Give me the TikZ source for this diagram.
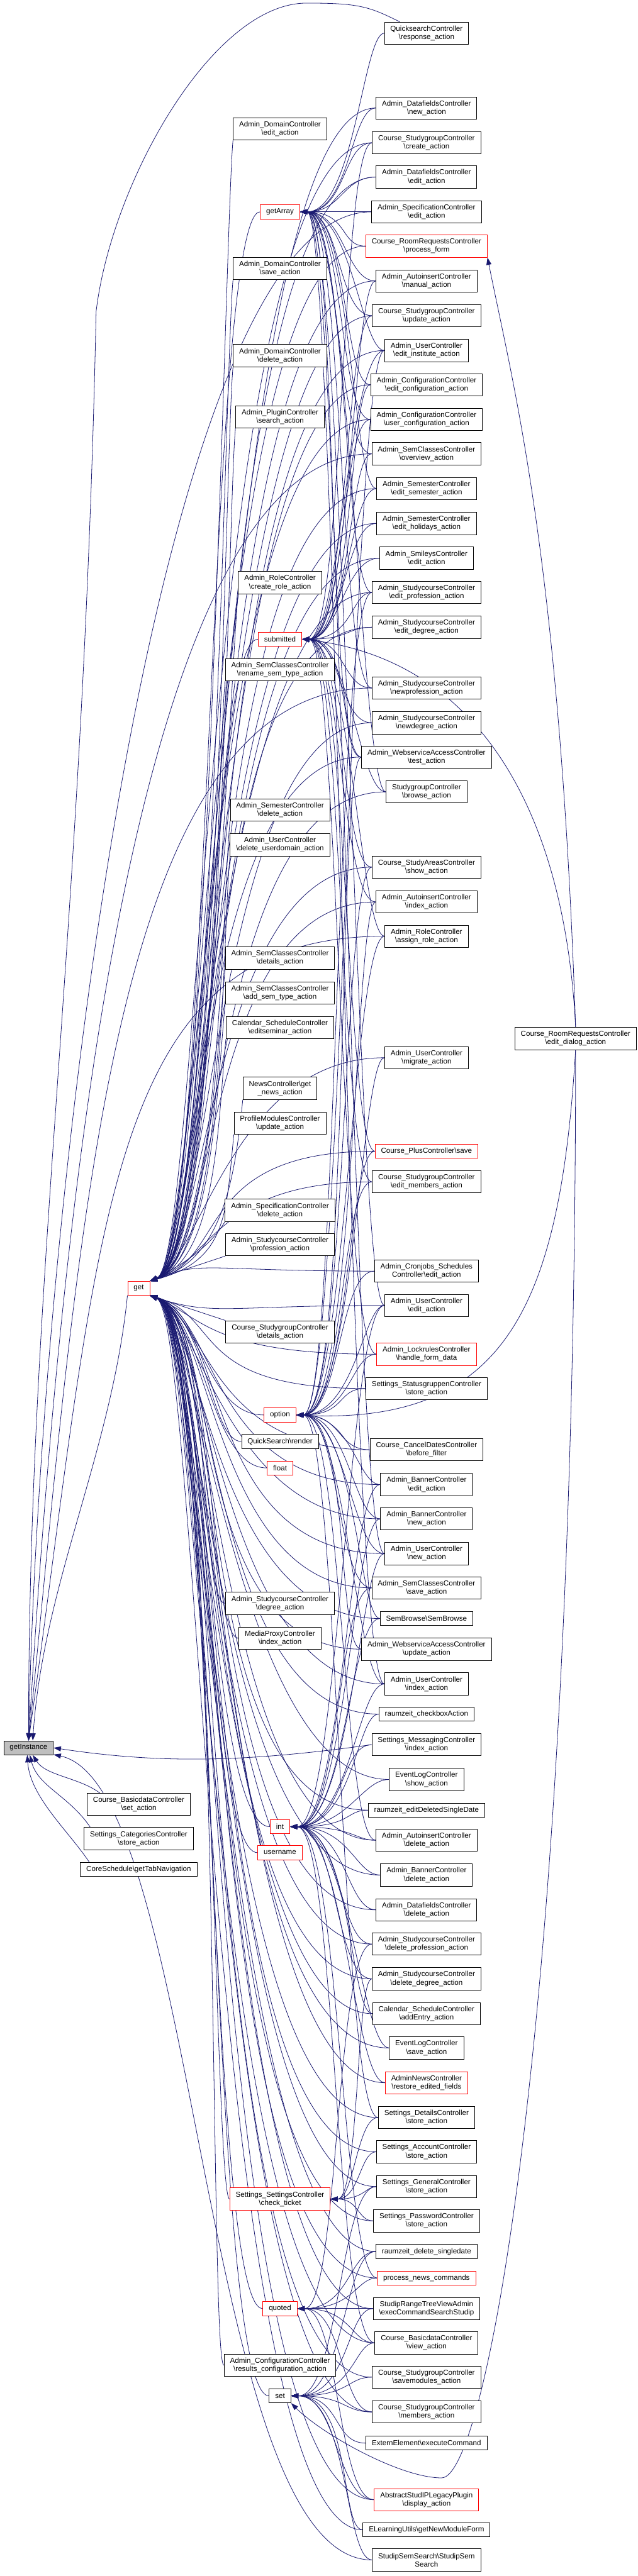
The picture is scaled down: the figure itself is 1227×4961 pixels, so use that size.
\documentclass[tikz,border=0pt]{standalone}
\usepackage{fontspec}
\setmainfont{Liberation Sans}
\usetikzlibrary{arrows.meta}
\definecolor{edgeblue}{RGB}{25,25,112}
\newcommand{\bsl}{\textbackslash}
\pgfdeclarelayer{edges}
\pgfsetlayers{edges,main}
\tikzset{
  fn/.style={draw=black, fill=white, line width=0.6pt, font=\fontsize{8}{9.1}\selectfont,
             align=center, inner xsep=6.5pt, inner ysep=1pt, minimum height=15.3pt},
  fn2/.style={fn, minimum height=24.4pt},
  cut/.style={draw=red},
  hub/.style={fn, fill=black!25},
  call/.style={draw=edgeblue, line width=0.55pt, -{Triangle[length=8pt,width=5.5pt]}},
}

\begin{document}
\begin{tikzpicture}[x=0.02cm, y=-0.02cm]
\useasboundingbox (0,0) rectangle (1227,4961);

% Called function and its direct callers
\node[hub] (ginst) at (55,3366) {getInstance};
\node[fn,cut] (fget) at (267,2481) {get};
\node[fn2] (bset) at (267,3475) {Course\_BasicdataController\\\bsl set\_action};
\node[fn2] (cstore) at (267,3541) {Settings\_CategoriesController\\\bsl store\_action};
\node[fn] (tabnav) at (267,3600) {CoreSchedule\bsl getTabNavigation};

% Helper functions
\node[fn,cut] (farr) at (539,408) {getArray};
\node[fn,cut] (fsub) at (539,1231) {submitted};
\node[fn,cut] (fopt) at (539,2725) {option};
\node[fn,cut] (fflt) at (539,2827) {float};
\node[fn,cut] (fint) at (539,3518) {int};
\node[fn,cut] (fusr) at (539,3568) {username};
\node[fn2,cut] (fchk) at (539,4235) {Settings\_SettingsController\\\bsl check\_ticket};
\node[fn,cut] (fquo) at (539,4446) {quoted};
\node[fn] (fset) at (539,4614) {set};

% Middle column
\node[fn2] (m01) at (539,248) {Admin\_DomainController\\\bsl edit\_action};
\node[fn2] (m02) at (539,517) {Admin\_DomainController\\\bsl save\_action};
\node[fn2] (m03) at (539,685) {Admin\_DomainController\\\bsl delete\_action};
\node[fn2] (m04) at (539,803) {Admin\_PluginController\\\bsl search\_action};
\node[fn2] (m05) at (539,1122) {Admin\_RoleController\\\bsl create\_role\_action};
\node[fn2] (m06) at (539,1290) {Admin\_SemClassesController\\\bsl rename\_sem\_type\_action};
\node[fn2] (m07) at (539,1560) {Admin\_SemesterController\\\bsl delete\_action};
\node[fn2] (m08) at (539,1627) {Admin\_UserController\\\bsl delete\_userdomain\_action};
\node[fn2] (m09) at (539,1845) {Admin\_SemClassesController\\\bsl details\_action};
\node[fn2] (m10) at (539,1912) {Admin\_SemClassesController\\\bsl add\_sem\_type\_action};
\node[fn2] (m11) at (539,1979) {Calendar\_ScheduleController\\\bsl editseminar\_action};
\node[fn2] (m12) at (539,2096) {NewsController\bsl get\\\_news\_action};
\node[fn2] (m13) at (539,2163) {ProfileModulesController\\\bsl update\_action};
\node[fn2] (m14) at (539,2331) {Admin\_SpecificationController\\\bsl delete\_action};
\node[fn2] (m15) at (539,2397) {Admin\_StudycourseController\\\bsl profession\_action};
\node[fn2] (m16) at (539,2565) {Course\_StudygroupController\\\bsl details\_action};
\node[fn] (m17) at (539,2776) {QuickSearch\bsl render};
\node[fn2] (m18) at (539,3088) {Admin\_StudycourseController\\\bsl degree\_action};
\node[fn2] (m19) at (539,3155) {MediaProxyController\\\bsl index\_action};
\node[fn2] (m20) at (539,4555) {Admin\_ConfigurationController\\\bsl results\_configuration\_action};

% Right column
\node[fn2] (r01) at (821,64) {QuicksearchController\\\bsl response\_action};
\node[fn2] (r02) at (821,208) {Admin\_DatafieldsController\\\bsl new\_action};
\node[fn2] (r03) at (821,275) {Course\_StudygroupController\\\bsl create\_action};
\node[fn2] (r04) at (821,341) {Admin\_DatafieldsController\\\bsl edit\_action};
\node[fn2] (r05) at (821,408) {Admin\_SpecificationController\\\bsl edit\_action};
\node[fn2,cut] (r06) at (821,474) {Course\_RoomRequestsController\\\bsl process\_form};
\node[fn2] (r07) at (821,541) {Admin\_AutoinsertController\\\bsl manual\_action};
\node[fn2] (r08) at (821,608) {Course\_StudygroupController\\\bsl update\_action};
\node[fn2] (r09) at (821,675) {Admin\_UserController\\\bsl edit\_institute\_action};
\node[fn2] (r10) at (821,741) {Admin\_ConfigurationController\\\bsl edit\_configuration\_action};
\node[fn2] (r11) at (821,808) {Admin\_ConfigurationController\\\bsl user\_configuration\_action};
\node[fn2] (r12) at (821,874) {Admin\_SemClassesController\\\bsl overview\_action};
\node[fn2] (r13) at (821,941) {Admin\_SemesterController\\\bsl edit\_semester\_action};
\node[fn2] (r14) at (821,1008) {Admin\_SemesterController\\\bsl edit\_holidays\_action};
\node[fn2] (r15) at (821,1075) {Admin\_SmileysController\\\bsl edit\_action};
\node[fn2] (r16) at (821,1141) {Admin\_StudycourseController\\\bsl edit\_profession\_action};
\node[fn2] (r17) at (821,1208) {Admin\_StudycourseController\\\bsl edit\_degree\_action};
\node[fn2] (r18) at (821,1325) {Admin\_StudycourseController\\\bsl newprofession\_action};
\node[fn2] (r19) at (821,1392) {Admin\_StudycourseController\\\bsl newdegree\_action};
\node[fn2] (r20) at (821,1458) {Admin\_WebserviceAccessController\\\bsl test\_action};
\node[fn2] (r21) at (821,1525) {StudygroupController\\\bsl browse\_action};
\node[fn2] (r22) at (821,1670) {Course\_StudyAreasController\\\bsl show\_action};
\node[fn2] (r23) at (821,1737) {Admin\_AutoinsertController\\\bsl index\_action};
\node[fn2] (r24) at (821,1803) {Admin\_RoleController\\\bsl assign\_role\_action};
\node[fn2] (r25) at (821,2037) {Admin\_UserController\\\bsl migrate\_action};
\node[fn,cut] (r26) at (821,2217) {Course\_PlusController\bsl save};
\node[fn2] (r27) at (821,2276) {Course\_StudygroupController\\\bsl edit\_members\_action};
\node[fn2] (r28) at (821,2448) {Admin\_Cronjobs\_Schedules\\Controller\bsl edit\_action};
\node[fn2] (r29) at (821,2514) {Admin\_UserController\\\bsl edit\_action};
\node[fn2,cut] (r30) at (821,2608) {Admin\_LockrulesController\\\bsl handle\_form\_data};
\node[fn2] (r31) at (821,2674) {Settings\_StatusgruppenController\\\bsl store\_action};
\node[fn2] (r32) at (821,2792) {Course\_CancelDatesController\\\bsl before\_filter};
\node[fn2] (r33) at (821,2859) {Admin\_BannerController\\\bsl edit\_action};
\node[fn2] (r34) at (821,2925) {Admin\_BannerController\\\bsl new\_action};
\node[fn2] (r35) at (821,2992) {Admin\_UserController\\\bsl new\_action};
\node[fn2] (r36) at (821,3058) {Admin\_SemClassesController\\\bsl save\_action};
\node[fn] (r37) at (821,3117) {SemBrowse\bsl SemBrowse};
\node[fn2] (r38) at (821,3176) {Admin\_WebserviceAccessController\\\bsl update\_action};
\node[fn2] (r39) at (821,3243) {Admin\_UserController\\\bsl index\_action};
\node[fn] (r40) at (821,3301) {raumzeit\_checkboxAction};
\node[fn2] (r41) at (821,3360) {Settings\_MessagingController\\\bsl index\_action};
\node[fn2] (r42) at (821,3427) {EventLogController\\\bsl show\_action};
\node[fn] (r43) at (821,3486) {raumzeit\_editDeletedSingleDate};
\node[fn2] (r44) at (821,3544) {Admin\_AutoinsertController\\\bsl delete\_action};
\node[fn2] (r45) at (821,3611) {Admin\_BannerController\\\bsl delete\_action};
\node[fn2] (r46) at (821,3678) {Admin\_DatafieldsController\\\bsl delete\_action};
\node[fn2] (r47) at (821,3744) {Admin\_StudycourseController\\\bsl delete\_profession\_action};
\node[fn2] (r48) at (821,3811) {Admin\_StudycourseController\\\bsl delete\_degree\_action};
\node[fn2] (r49) at (821,3878) {Calendar\_ScheduleController\\\bsl addEntry\_action};
\node[fn2] (r50) at (821,3944) {EventLogController\\\bsl save\_action};
\node[fn2,cut] (r51) at (821,4011) {AdminNewsController\\\bsl restore\_edited\_fields};
\node[fn2] (r52) at (821,4078) {Settings\_DetailsController\\\bsl store\_action};
\node[fn2] (r53) at (821,4144) {Settings\_AccountController\\\bsl store\_action};
\node[fn2] (r54) at (821,4211) {Settings\_GeneralController\\\bsl store\_action};
\node[fn2] (r55) at (821,4277) {Settings\_PasswordController\\\bsl store\_action};
\node[fn] (r56) at (821,4336) {raumzeit\_delete\_singledate};
\node[fn,cut] (r57) at (821,4387) {process\_news\_commands};
\node[fn2] (r58) at (821,4446) {StudipRangeTreeViewAdmin\\\bsl execCommandSearchStudip};
\node[fn2] (r59) at (821,4512) {Course\_BasicdataController\\\bsl view\_action};
\node[fn2] (r60) at (821,4578) {Course\_StudygroupController\\\bsl savemodules\_action};
\node[fn2] (r61) at (821,4645) {Course\_StudygroupController\\\bsl members\_action};
\node[fn] (r62) at (821,4705) {ExternElement\bsl executeCommand};
\node[fn2,cut] (r63) at (821,4814) {AbstractStudIPLegacyPlugin\\\bsl display\_action};
\node[fn] (r64) at (821,4872) {ELearningUtils\bsl getNewModuleForm};
\node[fn2] (r65) at (821,4930) {StudipSemSearch\bsl StudipSem\\Search};

% Far right caller
\node[fn2] (rx) at (1108,2000) {Course\_RoomRequestsController\\\bsl edit\_dialog\_action};

\coordinate (qstop) at (590,6);
\coordinate (qsbend) at (185,600);
\coordinate (dlgloop) at (850,4772);

\begin{pgfonlayer}{edges}
% into getInstance
\draw[call] ([xshift=0.6cm]r01.north west) .. controls +(-60,-30) and +(100,0) .. (qstop)
  .. controls +(-180,0) and +(30,-250) .. (qsbend) .. controls +(-25,1200) and +(0,-900) .. (ginst.north);
\foreach \s/\o/\b in {r05/420/20, r12/460/60, r18/500/100, r24/540/140}
  \draw[call] (\s.west) .. controls +(-\o,0) and +(\b,-1000) .. (ginst.north);
\draw[call] (fget.south west) .. controls +(-30,300) and +(20,-300) .. (ginst.60);
\draw[call] ([xshift=0.5cm]bset.north west) .. controls +(-40,-30) and +(25,40) .. (ginst.-60);
\draw[call] ([xshift=0.25cm]cstore.north west) .. controls +(-40,-60) and +(15,60) .. (ginst.-80);
\draw[call] ([xshift=0.35cm]tabnav.north west) .. controls +(-40,-60) and +(5,80) .. (ginst.-100);
\draw[call] (r41.west) .. controls +(-250,35) and +(200,30) .. (ginst.east);
\draw[call] (r65.west) .. controls +(-330,0) and +(280,60) .. (ginst.-15);

% into get
\draw[call] (farr.west) .. controls +(-100,0) and +(115,-40) .. (fget.north east);
\draw[call] (fsub.west) .. controls +(-95,0) and +(125,-40) .. (fget.north east);
\foreach \s/\o/\b in {fopt/110/100, fflt/110/105, fint/120/110, fusr/100/115, fchk/30/120, fquo/110/125, fset/120/130}
  \draw[call] (\s.west) .. controls +(-\o,0) and +(\b,40) .. (fget.south east);
\foreach \s/\b in {m01/110, m02/120, m03/130, m04/140, m05/115, m06/125, m07/135, m08/145,
                   m09/110, m10/120, m11/130, m12/140, m13/150}
  \draw[call] (\s.south west) .. controls +(-15,150) and +(\b,-40) .. (fget.north east);
\draw[call] (m14.south west) .. controls +(-30,50) and +(60,-30) .. (fget.north east);
\draw[call] (m15.south west) -- (fget.north east);
\draw[call] (m16.north west) -- (fget.south east);
\foreach \s/\o/\b in {m17/60/110, m18/50/120, m19/60/130, m20/30/140}
  \draw[call] (\s.west) .. controls +(-\o,0) and +(\b,40) .. (fget.south east);
\foreach \s/\o/\b in {r02/300/120, r03/320/100, r04/340/140, r06/310/110, r07/330/130, r08/290/95,
                      r09/350/150, r10/300/120, r11/320/100, r13/340/140, r14/310/110, r15/330/130,
                      r16/290/95, r17/350/150, r19/300/120, r20/320/100, r21/340/140, r22/310/110,
                      r23/330/130, r25/290/95, r26/350/150, r27/300/120, r28/320/100}
  \draw[call] (\s.west) .. controls +(-\o,0) and +(\b,-40) .. (fget.north east);
\foreach \s/\o/\b in {r29/300/120, r30/320/100, r31/340/140, r32/310/110, r33/330/130, r34/290/95,
                      r35/350/150, r36/300/120, r37/320/100, r38/340/140, r39/310/110, r40/330/130,
                      r42/290/95, r43/350/150, r44/300/120, r45/320/100, r46/340/140, r47/310/110,
                      r48/330/130, r49/290/95, r50/350/150, r51/300/120, r52/320/100, r53/340/140,
                      r54/310/110, r55/330/130, r56/290/95, r57/350/150, r58/300/120, r59/320/100,
                      r60/340/140, r61/310/110, r63/330/130, r64/290/95}
  \draw[call] (\s.west) .. controls +(-\o,0) and +(\b,40) .. (fget.south east);

% into getArray
\foreach \s/\o in {r01/40, r02/48, r03/56, r04/64, r05/40, r06/50, r07/58, r08/66, r09/44, r10/52,
                   r11/60, r12/68, r13/46, r16/54, r18/62, r20/70, r21/48, r29/56, r35/64, r39/72}
  \draw[call] (\s.west) .. controls +(-\o,0) and +(144-\o,0) .. (farr.east);

% into submitted
\foreach \s/\o in {r03/60, r07/44, r08/52, r09/68, r10/40, r11/56, r12/44, r13/52, r14/60, r15/68,
                   r16/40, r17/48, r18/56, r19/64, r20/42, r21/50, r22/58, r23/66, r24/46, r26/54,
                   r27/62, r30/70}
  \draw[call] (\s.west) .. controls +(-\o,0) and +(140-\o,0) .. (fsub.east);

% into option
\foreach \s/\o in {r09/64, r16/72, r20/48, r22/56, r23/40, r24/60, r25/44, r26/52, r27/60, r28/68,
                   r29/40, r30/48, r31/56, r32/64, r33/44, r34/52, r35/60, r36/68, r37/40, r38/48,
                   r39/56, r44/64, r52/72}
  \draw[call] (\s.west) .. controls +(-\o,0) and +(153-\o,0) .. (fopt.east);

% into int
\foreach \s/\o in {r29/70, r33/62, r34/54, r35/46, r36/66, r37/58, r39/50, r40/42, r41/60, r42/52,
                   r43/44, r44/40, r45/48, r46/56, r47/64, r48/72, r49/44, r50/52, r51/60, r57/68,
                   r59/76}
  \draw[call] (\s.west) .. controls +(-\o,0) and +(164-\o,0) .. (fint.east);

% into check_ticket, quoted and set
\foreach \s/\o in {r48/30, r52/40, r53/30, r54/20, r55/30}
  \draw[call] (\s.west) .. controls +(-\o,0) and +(85-\o,0) .. (fchk.east);
\foreach \s/\o in {r47/70, r56/50, r57/40, r58/30, r59/45, r61/60, r63/70}
  \draw[call] (\s.west) .. controls +(-\o,0) and +(150-\o,0) .. (fquo.east);
\foreach \s/\o in {r54/70, r56/60, r58/50, r59/40, r60/48, r61/56, r62/64, r63/72, r64/44, r65/52}
  \draw[call] (\s.west) .. controls +(-\o,0) and +(162-\o,0) .. (fset.east);

% edit_dialog_action
\draw[call] (rx.north) .. controls +(-30,-900) and +(50,250) .. (r06.south east);
\draw[call] (rx.north) .. controls +(-20,-400) and +(350,40) .. (fsub.east);
\draw[call] (rx.south) .. controls +(-30,500) and +(400,20) .. (fopt.east);
\draw[call] (rx.south) .. controls +(0,1800) and +(90,0) .. (dlgloop)
  .. controls +(-80,0) and +(60,60) .. (fset.south east);
\end{pgfonlayer}
\end{tikzpicture}
\end{document}
